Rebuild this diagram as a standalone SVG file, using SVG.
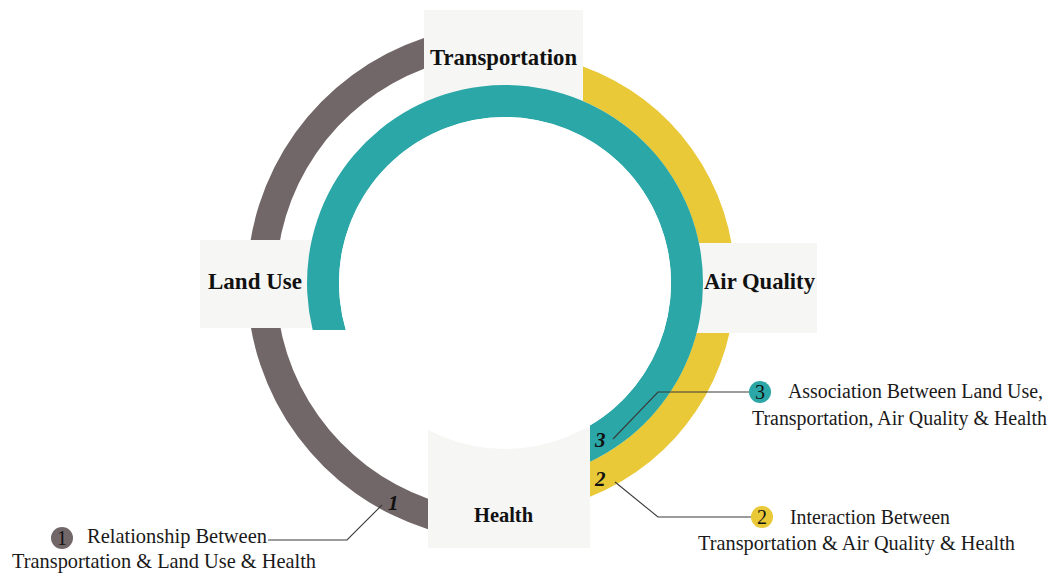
<svg xmlns="http://www.w3.org/2000/svg" width="1055" height="573" viewBox="0 0 1055 573">
<style>
.box{fill:#f6f6f4}
.lbl{font-family:"Liberation Serif","Times New Roman",serif;font-weight:bold;fill:#111;text-anchor:middle}
.num{font-family:"Liberation Serif","Times New Roman",serif;font-weight:bold;font-style:italic;font-size:21px;fill:#111}
.leg{font-family:"Liberation Serif","Times New Roman",serif;font-size:21px;fill:#1a1a1a}
.leg20{font-family:"Liberation Serif","Times New Roman",serif;font-size:20px;fill:#1a1a1a}
.cn{font-family:"Liberation Serif","Times New Roman",serif;font-size:20px;fill:#111;text-anchor:middle}
.lead{fill:none;stroke:#3a3a3a;stroke-width:1.1}
</style>
<rect width="1055" height="573" fill="#ffffff"/>
<g id="rings">
  <path id="ring-gray" d="M424,38 A258,258 0 0 0 428,529.2 L428,498.7 A229,229 0 0 1 424,68.8 Z" fill="#726768"/>
  <path id="ring-yellow" d="M583,66.6 A230,230 0 0 1 590,496.7 L590,461.8 A198,198 0 0 0 583,101 Z" fill="#e9c937"/>
</g>
<g id="node-transportation">
  <rect class="box" x="424" y="10" width="159" height="100"/>
  <text class="lbl" x="503.5" y="65" font-size="23" textLength="147" lengthAdjust="spacingAndGlyphs">Transportation</text>
</g>
<g id="node-landuse">
  <rect class="box" x="200" y="240" width="120" height="88"/>
  <text class="lbl" x="255" y="289" font-size="23" textLength="94" lengthAdjust="spacingAndGlyphs">Land Use</text>
</g>
<g id="node-airquality">
  <rect class="box" x="690" y="243" width="127" height="90"/>
  <text class="lbl" x="759.5" y="289" font-size="23" textLength="111" lengthAdjust="spacingAndGlyphs">Air Quality</text>
</g>
<g id="node-health">
  <rect class="box" x="428" y="428" width="162" height="120"/>
</g>
<g id="ring-teal-group">
  <path id="ring-teal" d="M312.7,330 A198,198 0 1 1 590,461.8 L590,425.6 A166,166 0 1 0 345.8,330 Z" fill="#2aa7a6"/>
  <circle cx="505" cy="283" r="166" fill="#ffffff"/>
</g>
<g id="node-health-label">
  <text class="lbl" x="503.5" y="522" font-size="21" textLength="59" lengthAdjust="spacingAndGlyphs">Health</text>
</g>
<g id="ring-numbers">
  <text class="num" x="388" y="510">1</text>
  <text class="num" x="595" y="447">3</text>
  <text class="num" x="595" y="486">2</text>
</g>
<g id="connectors">
  <polyline class="lead" points="268,540 347,540 382,505"/>
  <polyline class="lead" points="749,392 658,392 613,439"/>
  <polyline class="lead" points="615,482 658,517 751,517"/>
</g>
<g id="legend-1">
  <circle cx="62" cy="538" r="11" fill="#726768"/>
  <text class="cn" x="62" y="545">1</text>
  <text class="leg" x="87" y="543" textLength="180" lengthAdjust="spacingAndGlyphs">Relationship Between</text>
  <text class="leg" x="12" y="568" textLength="304" lengthAdjust="spacingAndGlyphs">Transportation &amp; Land Use &amp; Health</text>
</g>
<g id="legend-3">
  <circle cx="760" cy="392" r="11" fill="#2aa7a6"/>
  <text class="cn" x="760" y="399">3</text>
  <text class="leg20" x="788" y="398" textLength="255" lengthAdjust="spacingAndGlyphs">Association Between Land Use,</text>
  <text class="leg20" x="752" y="425" textLength="295" lengthAdjust="spacingAndGlyphs">Transportation, Air Quality &amp; Health</text>
</g>
<g id="legend-2">
  <circle cx="762" cy="517" r="11" fill="#e9c937"/>
  <text class="cn" x="762" y="524">2</text>
  <text class="leg" x="790" y="524" textLength="160" lengthAdjust="spacingAndGlyphs">Interaction Between</text>
  <text class="leg" x="698" y="550" textLength="317" lengthAdjust="spacingAndGlyphs">Transportation &amp; Air Quality &amp; Health</text>
</g>
</svg>
